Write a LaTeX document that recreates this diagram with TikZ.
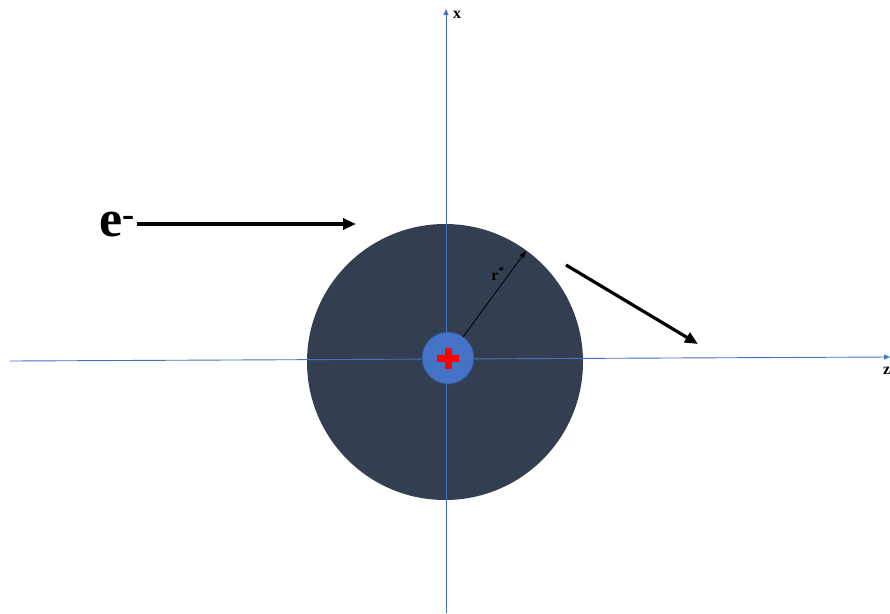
\documentclass[tikz,border=0pt]{standalone}
\usepackage{fontspec}
\setmainfont{Liberation Serif}
\usetikzlibrary{arrows.meta,calc}
\definecolor{axisblue}{HTML}{4472C4}
\definecolor{cloudgray}{HTML}{333F50}
\definecolor{nucborder}{HTML}{2F528F}

\begin{document}
\begin{tikzpicture}[
  x=1pt,y=-1pt,
  axis/.style={draw=axisblue,line width=0.9pt,-{Triangle[length=6pt,width=5pt]}},
  beam/.style={draw=black,line width=3.2pt,-{Triangle[length=13pt,width=11pt]}},
  lbl/.style={inner sep=0pt,font=\bfseries\fontsize{16}{16}\selectfont}
]
\useasboundingbox (0,0) rectangle (890,613);

% electron cloud and nucleus
\node[circle,fill=cloudgray,minimum size=276pt,inner sep=0pt] (cloud) at (445,362) {};
\coordinate (zleft) at (10,361);
\coordinate (zright) at (890,357);
\coordinate (xbot) at (446,613);
\coordinate (xtop) at (446,9);
\draw[axis] (zleft) -- (zright);
\draw[axis] (xbot) -- (xtop);
\node[circle,fill=axisblue,draw=nucborder,line width=0.6pt,minimum size=52pt,inner sep=0pt] (nucleus) at (448,358) {};
\draw[red,line width=7pt] ($(nucleus)+(-11,0)$) -- ($(nucleus)+(11,0)$);
\draw[red,line width=7pt] ($(nucleus)+(0,-10.5)$) -- ($(nucleus)+(0,10.5)$);

% axis labels
\node[lbl,anchor=west] (xlabel) at (453,15) {x};
\node[lbl,anchor=west] (zlabel) at (883,371) {z};

% radius
\coordinate (rstart) at (463,337);
\coordinate (rend) at (526,251);
\draw[line width=0.8pt,-{Triangle[length=7pt,width=5pt]}] (rstart) -- (rend);
\node[lbl] (rlabel) at (498,274) {r\textsuperscript{*}};

% incoming electron and scattered direction
\node[inner sep=0pt,font=\bfseries\fontsize{52}{52}\selectfont,anchor=base] (elabel) at (117,236) {e\textsuperscript{-}};
\coordinate (ein) at (356,224);
\draw[beam] ($(elabel.east|-ein)+(2,0)$) -- (ein);
\coordinate (sstart) at (566,265);
\coordinate (send) at (698,344);
\draw[beam] (sstart) -- (send);
\end{tikzpicture}
\end{document}
